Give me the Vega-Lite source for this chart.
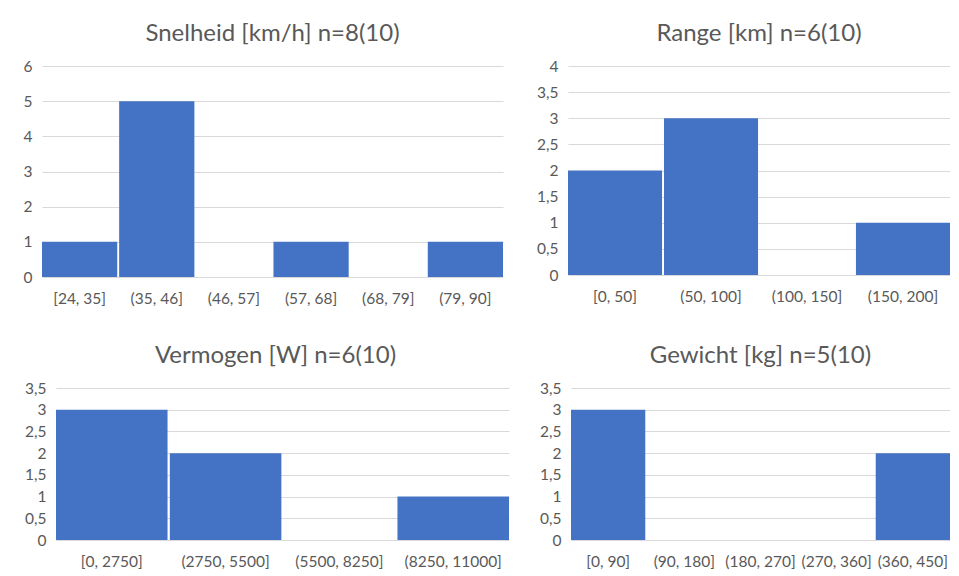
{
  "$schema": "https://vega.github.io/schema/vega-lite/v6.json",
  "padding": {"left": 12, "top": 22, "right": 0, "bottom": 0},
  "background": "white",
  "config": {
    "font": "Lato",
    "view": {"stroke": null},
    "title": {"fontSize": 24, "fontWeight": "normal", "color": "#595959", "font": "Lato", "offset": 13},
    "axis": {"labelFont": "Lato", "labelFontSize": 15.5, "labelColor": "#595959", "ticks": false, "domain": false},
    "axisY": {"grid": true, "gridColor": "#d9d9d9", "labelPadding": 10},
    "axisX": {"grid": false, "labelAngle": 0, "labelPadding": 14},
    "bar": {"color": "#4472C4"}
  },
  "datasets": {
    "snelheid": [
      {"bin": "[24, 35]", "count": 1},
      {"bin": "(35, 46]", "count": 5},
      {"bin": "(46, 57]", "count": 0},
      {"bin": "(57, 68]", "count": 1},
      {"bin": "(68, 79]", "count": 0},
      {"bin": "(79, 90]", "count": 1}
    ],
    "range": [
      {"bin": "[0, 50]", "count": 2},
      {"bin": "(50, 100]", "count": 3},
      {"bin": "(100, 150]", "count": 0},
      {"bin": "(150, 200]", "count": 1}
    ],
    "vermogen": [
      {"bin": "[0, 2750]", "count": 3},
      {"bin": "(2750, 5500]", "count": 2},
      {"bin": "(5500, 8250]", "count": 0},
      {"bin": "(8250, 11000]", "count": 1}
    ],
    "gewicht": [
      {"bin": "[0, 90]", "count": 3},
      {"bin": "(90, 180]", "count": 0},
      {"bin": "(180, 270]", "count": 0},
      {"bin": "(270, 360]", "count": 0},
      {"bin": "(360, 450]", "count": 2}
    ]
  },
  "spacing": 37,
  "vconcat": [
    {
      "spacing": 30,
      "hconcat": [
        {
          "title": "Snelheid [km/h] n=8(10)",
          "width": 461, "height": 211,
          "data": {"name": "snelheid"},
          "mark": {"type": "bar"},
          "encoding": {
            "x": {"field": "bin", "type": "nominal", "sort": null, "title": null, "scale": {"paddingInner": 0.025, "paddingOuter": 0}},
            "y": {"field": "count", "type": "quantitative", "title": null, "scale": {"domain": [0, 6]}, "axis": {"values": [0, 1, 2, 3, 4, 5, 6], "minExtent": 30, "maxExtent": 30}}
          }
        },
        {
          "title": "Range [km] n=6(10)",
          "width": 382, "height": 209,
          "data": {"name": "range"},
          "mark": {"type": "bar"},
          "encoding": {
            "x": {"field": "bin", "type": "nominal", "sort": null, "title": null, "scale": {"paddingInner": 0.02, "paddingOuter": 0}},
            "y": {"field": "count", "type": "quantitative", "title": null, "scale": {"domain": [0, 4]}, "axis": {"values": [0, 0.5, 1, 1.5, 2, 2.5, 3, 3.5, 4], "format": "~g", "labelExpr": "replace(datum.label, '.', ',')", "minExtent": 35, "maxExtent": 35}}
          }
        }
      ]
    },
    {
      "spacing": 27,
      "hconcat": [
        {
          "title": "Vermogen [W] n=6(10)",
          "width": 467, "height": 152,
          "data": {"name": "vermogen"},
          "mark": {"type": "bar"},
          "encoding": {
            "x": {"field": "bin", "type": "nominal", "sort": null, "title": null, "scale": {"paddingInner": 0.02, "paddingOuter": 0, "range": [14, 467]}},
            "y": {"field": "count", "type": "quantitative", "title": null, "scale": {"domain": [0, 3.5]}, "axis": {"values": [0, 0.5, 1, 1.5, 2, 2.5, 3, 3.5], "format": "~g", "labelExpr": "replace(datum.label, '.', ',')", "offset": -14, "minExtent": 30, "maxExtent": 30}}
          }
        },
        {
          "title": "Gewicht [kg] n=5(10)",
          "width": 379, "height": 152,
          "data": {"name": "gewicht"},
          "mark": {"type": "bar"},
          "encoding": {
            "x": {"field": "bin", "type": "nominal", "sort": null, "title": null, "scale": {"paddingInner": 0.025, "paddingOuter": 0}},
            "y": {"field": "count", "type": "quantitative", "title": null, "scale": {"domain": [0, 3.5]}, "axis": {"values": [0, 0.5, 1, 1.5, 2, 2.5, 3, 3.5], "format": "~g", "labelExpr": "replace(datum.label, '.', ',')", "minExtent": 35, "maxExtent": 35}}
          }
        }
      ]
    }
  ]
}
